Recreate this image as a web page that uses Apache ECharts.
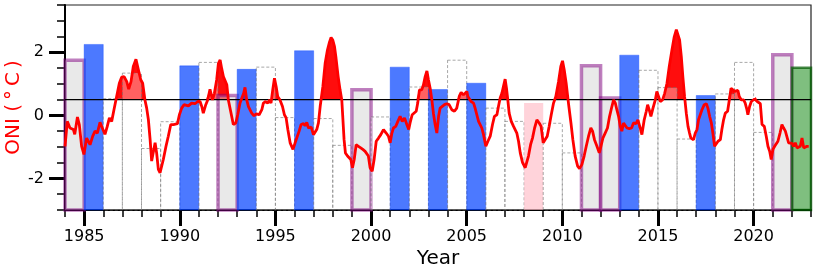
<!DOCTYPE html>
<html>
<head>
<meta charset="utf-8">
<script src="https://cdn.jsdelivr.net/npm/echarts@6/dist/echarts.min.js"></script>
<style>
html,body{margin:0;padding:0;background:#fff;}
#chart{width:817px;height:275px;}
</style>
</head>
<body>
<div id="chart"></div>
<script>
// ---------- data ----------
const xMin = 1984, xMax = 2023;
const yMin = -3, yMax = 3.5;
const threshold = 0.5;
const majorYears = [1985, 1990, 1995, 2000, 2005, 2010, 2015, 2020];
const yLabelValues = [-2, 0, 2];

const barYears = [1984,1985,1986,1987,1988,1989,1990,1991,1992,1993,1994,1995,1996,1997,1998,1999,2000,2001,2002,2003,2004,2005,2006,2007,2008,2009,2010,2011,2012,2013,2014,2015,2016,2017,2018,2019,2020,2021,2022];
const barValues = [1.75,2.25,0.53,1.34,-1.05,-0.2,1.57,1.68,0.63,1.46,1.53,-0.07,2.05,-0.1,-0.95,0.81,-0.05,1.53,0.9,0.82,1.75,1.02,0.23,-0.19,0.39,-0.25,-1.19,1.57,0.55,1.91,1.43,0.88,-0.75,0.63,0.68,1.68,-0.54,1.92,1.51];
const barTypes = ['purple','blue','dashed','dashed','dashed','dashed','blue','dashed','purple','blue','dashed','dashed','blue','dashed','dashed','purple','dashed','blue','dashed','blue','dashed','blue','dashed','dashed','pink','dashed','dashed','purple','purple','blue','dashed','dashed','dashed','blue','dashed','dashed','dashed','purple','green'];

const oniYears = [
1984.00,1984.12,1984.26,1984.44,1984.51,1984.65,1984.75,1984.87,1984.99,1985.13,1985.22,1985.31,1985.45,1985.57,1985.69,1985.83,1985.95,
1986.09,1986.21,1986.32,1986.44,1986.56,1986.70,1986.84,1986.96,1987.09,1987.23,1987.33,1987.45,1987.57,1987.71,1987.84,1987.96,
1988.06,1988.18,1988.27,1988.36,1988.45,1988.53,1988.62,1988.71,1988.79,1988.88,1988.97,1989.06,1989.14,1989.28,1989.40,1989.53,1989.67,1989.77,1989.88,1989.98,
1990.10,1990.22,1990.28,1990.45,1990.62,1990.80,1990.94,1991.06,1991.15,1991.23,1991.36,1991.46,1991.58,1991.71,1991.81,1991.93,
1992.02,1992.11,1992.19,1992.28,1992.37,1992.46,1992.54,1992.66,1992.80,1992.93,1993.03,1993.15,1993.24,1993.34,1993.41,1993.50,1993.59,1993.69,1993.76,1993.88,
1994.01,1994.15,1994.29,1994.37,1994.49,1994.60,1994.69,1994.77,1994.86,1994.95,1995.04,1995.12,1995.24,1995.37,1995.47,1995.56,1995.65,1995.77,1995.85,1995.92,
1996.03,1996.13,1996.24,1996.34,1996.47,1996.55,1996.64,1996.73,1996.87,1996.99,1997.16,1997.25,1997.34,1997.48,1997.60,1997.72,1997.83,1997.91,
1998.00,1998.09,1998.17,1998.28,1998.38,1998.47,1998.52,1998.59,1998.66,1998.77,1998.87,1998.94,1999.03,1999.12,1999.22,1999.34,1999.46,1999.57,1999.69,1999.78,1999.86,1999.95,
2000.06,2000.16,2000.27,2000.39,2000.51,2000.65,2000.79,2000.91,2001.00,2001.09,2001.17,2001.29,2001.40,2001.52,2001.63,2001.75,2001.87,2001.97,
2002.04,2002.15,2002.25,2002.36,2002.44,2002.53,2002.65,2002.74,2002.83,2002.92,2003.00,2003.09,2003.18,2003.26,2003.35,2003.44,2003.53,2003.61,2003.70,2003.84,2003.96,
2004.08,2004.22,2004.36,2004.48,2004.61,2004.71,2004.83,2004.92,2005.01,2005.06,2005.13,2005.23,2005.36,2005.44,2005.53,2005.62,2005.70,2005.79,2005.88,
2006.00,2006.11,2006.23,2006.35,2006.45,2006.58,2006.66,2006.75,2006.84,2006.92,2007.01,2007.08,2007.15,2007.22,2007.33,2007.45,2007.54,2007.62,2007.71,2007.80,2007.92,
2008.06,2008.15,2008.23,2008.34,2008.44,2008.55,2008.67,2008.79,2008.89,2009.00,2009.10,2009.21,2009.31,2009.42,2009.54,2009.66,2009.80,2009.92,
2010.01,2010.10,2010.20,2010.32,2010.45,2010.55,2010.67,2010.80,2010.90,2011.02,2011.14,2011.25,2011.37,2011.49,2011.58,2011.68,2011.81,2011.93,
2012.02,2012.12,2012.24,2012.36,2012.47,2012.59,2012.68,2012.77,2012.85,2012.94,2013.03,2013.11,2013.20,2013.29,2013.38,2013.50,2013.62,2013.72,2013.85,2013.95,
2014.07,2014.16,2014.28,2014.39,2014.46,2014.54,2014.63,2014.74,2014.86,2014.94,2015.03,2015.12,2015.24,2015.35,2015.47,2015.59,2015.73,2015.85,2015.96,
2016.04,2016.13,2016.22,2016.30,2016.39,2016.48,2016.57,2016.65,2016.72,2016.86,2016.95,2017.04,2017.12,2017.21,2017.30,2017.42,2017.53,2017.61,2017.70,2017.79,2017.87,2017.96,
2018.05,2018.14,2018.26,2018.34,2018.43,2018.52,2018.64,2018.73,2018.82,2018.90,2019.01,2019.08,2019.18,2019.25,2019.36,2019.48,2019.56,2019.65,2019.70,2019.79,2019.88,2019.97,
2020.05,2020.12,2020.19,2020.26,2020.35,2020.44,2020.56,2020.66,2020.75,2020.84,2020.92,2021.01,2021.10,2021.19,2021.27,2021.38,2021.48,2021.57,2021.66,2021.74,2021.83,2021.92,
2022.01,2022.09,2022.18,2022.27,2022.35,2022.44,2022.53,2022.62,2022.70,2022.79,2022.88
];
const oniValues = [
-0.98,-0.19,-0.40,-0.45,-0.60,-0.05,-0.30,-0.98,-1.24,-0.72,-0.66,-0.93,-0.66,-0.50,-0.56,-0.22,-0.40,
-0.60,-0.35,-0.08,-0.19,0.18,0.60,1.02,1.21,1.23,1.07,0.83,1.07,1.55,1.78,1.44,1.13,
1.02,0.49,0.23,-0.14,-0.77,-1.45,-1.40,-0.87,-1.19,-1.71,-1.82,-1.82,-1.40,-0.98,-0.66,-0.29,-0.29,-0.24,-0.26,0.02,
0.23,0.34,0.28,0.30,0.39,0.37,0.44,0.44,0.28,0.07,0.34,0.49,0.83,0.49,0.70,1.13,
1.65,1.76,1.49,1.23,1.28,0.97,0.49,0.13,-0.29,-0.24,0.02,0.39,0.44,0.70,0.89,0.49,0.28,0.28,0.07,-0.01,
0.05,0.02,0.18,0.39,0.44,0.39,0.49,0.39,0.81,1.18,0.91,0.60,0.49,0.28,0.02,-0.08,-0.45,-0.87,-0.93,-1.08,
-0.87,-0.82,-0.50,-0.29,-0.26,-0.33,-0.22,-0.40,-0.37,-0.61,-0.45,-0.24,0.28,0.91,1.65,2.07,2.33,2.47,
2.39,2.18,1.81,1.23,0.81,0.49,-0.03,-0.77,-1.19,-1.29,-1.35,-1.40,-1.66,-1.40,-0.93,-0.98,-1.03,-1.08,-1.14,-1.19,-1.29,-1.66,
-1.77,-1.40,-0.82,-0.72,-0.61,-0.45,-0.56,-0.66,-0.87,-0.56,-0.40,-0.35,-0.19,-0.03,-0.19,-0.08,-0.29,-0.45,
-0.24,0.02,0.07,0.13,0.39,0.81,0.81,0.97,1.23,1.41,1.13,0.86,0.49,0.07,-0.29,-0.56,-0.03,0.23,0.23,0.34,0.37,
0.34,0.18,0.13,0.23,0.60,0.73,0.65,0.70,0.76,0.60,0.60,0.44,0.39,0.23,0.02,-0.19,-0.14,-0.40,-0.61,
-0.98,-0.82,-0.66,-0.29,-0.03,0.02,0.28,0.55,0.70,0.91,1.15,0.86,0.49,0.07,-0.19,-0.35,-0.40,-0.56,-0.82,-1.19,-1.50,
-1.66,-1.66,-1.29,-0.93,-0.72,-0.40,-0.14,-0.24,-0.35,-0.87,-0.82,-0.66,-0.35,0.02,0.39,0.60,1.07,1.55,
1.73,1.44,1.02,0.39,-0.24,-0.77,-1.29,-1.61,-1.69,-1.56,-1.29,-0.98,-0.66,-0.40,-0.50,-0.77,-0.98,-1.19,
-0.98,-0.72,-0.56,-0.40,-0.03,0.28,0.49,0.39,0.18,-0.03,-0.35,-0.50,-0.24,-0.24,-0.40,-0.42,-0.40,-0.24,-0.26,-0.14,
-0.40,-0.61,-0.14,0.13,0.34,0.18,-0.03,0.23,0.49,0.76,0.60,0.44,0.49,0.70,1.02,1.55,2.07,2.49,2.72,
2.68,2.39,1.86,1.23,0.60,0.07,-0.35,-0.56,-0.72,-0.77,-0.56,-0.45,-0.14,0.02,0.18,0.34,0.37,0.23,-0.03,-0.24,-0.56,-0.98,
-0.98,-0.82,-0.77,-0.45,-0.14,0.07,0.13,0.49,0.86,0.89,0.76,0.70,0.79,0.60,0.49,0.49,0.39,0.18,0.02,0.28,0.44,0.49,
0.52,0.58,0.44,0.49,0.37,-0.29,-0.35,-0.66,-0.98,-1.14,-1.40,-1.08,-0.98,-0.98,-0.82,-0.56,-0.29,-0.40,-0.50,-0.56,-0.87,-0.93,
-0.89,-0.98,-0.87,-1.03,-1.08,-0.98,-0.72,-1.03,-1.08,-0.98,-0.98
];

// ---------- derived series data ----------
const linePoints = oniYears.map((x, i) => [x, oniValues[i]]);
// Portion above threshold (with crossing points) for the red fill
const fillPoints = [];
for (let i = 0; i < linePoints.length; i++) {
  const [x0, v0] = linePoints[i];
  fillPoints.push([x0, Math.max(v0, threshold)]);
  if (i < linePoints.length - 1) {
    const [x1, v1] = linePoints[i + 1];
    if ((v0 - threshold) * (v1 - threshold) < 0) {
      const xc = x0 + (threshold - v0) / (v1 - v0) * (x1 - x0);
      fillPoints.push([xc, threshold]);
    }
  }
}
const barData = barYears.map((y, i) => [y, barValues[i], i]);

const barStyles = {
  blue:   {fill: 'rgba(0,64,255,0.7)', stroke: 'rgba(0,64,255,0.7)', lineWidth: 0.5},
  dashed: {fill: 'rgba(255,255,255,0.35)', stroke: 'rgba(110,110,110,0.6)', lineWidth: 1, lineDash: [3, 2]},
  purple: {fill: 'rgba(211,211,211,0.5)', stroke: 'rgba(128,0,128,0.5)', lineWidth: 3.5},
  pink:   {fill: 'rgba(255,192,203,0.7)', stroke: null, lineWidth: 0},
  green:  {fill: 'rgba(0,128,0,0.5)', stroke: 'rgba(0,90,0,0.7)', lineWidth: 2.5}
};

const font = 'DejaVu Sans';
const chart = echarts.init(document.getElementById('chart'), null, {renderer: 'canvas'});

chart.setOption({
  animation: false,
  backgroundColor: '#fff',
  grid: {left: 65, right: 6, top: 5, bottom: 65, containLabel: false, outerBoundsMode: 'none',
         show: true, borderColor: '#222', borderWidth: 1.2, backgroundColor: 'transparent'},
  xAxis: [
    {
      type: 'value', min: xMin, max: xMax, interval: 1,
      axisLine: {show: true, onZero: false, lineStyle: {color: '#000', width: 2}},
      axisTick: {show: true, length: 7, lineStyle: {color: '#000', width: 1.5}},
      axisLabel: {show: false},
      splitLine: {show: false}
    },
    {
      type: 'value', min: xMin, max: xMax, position: 'bottom',
      axisLine: {show: false, onZero: false},
      axisTick: {show: true, customValues: majorYears, length: 16, lineStyle: {color: '#000', width: 3}},
      axisLabel: {show: true, customValues: majorYears, fontSize: 16, fontFamily: font, color: '#000', margin: 19, formatter: v => String(v)},
      splitLine: {show: false},
      name: 'Year', nameLocation: 'middle', nameGap: 39, nameMoveOverlap: false,
      nameTextStyle: {fontSize: 20, fontFamily: font, color: '#000'}
    }
  ],
  yAxis: [
    {
      type: 'value', min: yMin, max: yMax, interval: 0.5,
      axisLine: {show: true, onZero: false, lineStyle: {color: '#000', width: 2}},
      axisTick: {show: true, length: 8, lineStyle: {color: '#000', width: 1.5}},
      axisLabel: {show: false},
      splitLine: {show: false}
    },
    {
      type: 'value', min: yMin, max: yMax, position: 'left',
      axisLine: {show: false, onZero: false},
      axisTick: {show: true, customValues: yLabelValues, length: 16, lineStyle: {color: '#000', width: 3}},
      axisLabel: {show: true, customValues: yLabelValues, fontSize: 16, fontFamily: font, color: '#000', margin: 21, formatter: v => String(v)},
      splitLine: {show: false},
      name: 'ONI (\u2009°\u2009C\u2009)', nameLocation: 'middle', nameGap: 41, nameRotate: 90, nameMoveOverlap: false,
      nameTextStyle: {fontSize: 20, fontFamily: font, color: '#ff0000'}
    }
  ],
  series: [
    {
      name: 'fill', type: 'line', xAxisIndex: 0, yAxisIndex: 0,
      data: fillPoints, showSymbol: false, silent: true, z: 1,
      lineStyle: {width: 0, opacity: 0},
      areaStyle: {color: 'rgba(255,0,0,0.95)', origin: threshold, opacity: 1}
    },
    {
      name: 'bars', type: 'custom', xAxisIndex: 0, yAxisIndex: 0, z: 2,
      data: barData, encode: {x: 0, y: 1},
      renderItem: function (params, api) {
        const yr = api.value(0), val = api.value(1), idx = api.value(2);
        const pTop = api.coord([yr, val]);
        const pBot = api.coord([yr + 1, yMin]);
        const st = barStyles[barTypes[idx]];
        const style = {fill: st.fill};
        if (st.stroke) { style.stroke = st.stroke; style.lineWidth = st.lineWidth; }
        if (st.lineDash) style.lineDash = st.lineDash;
        return {
          type: 'rect',
          shape: {x: pTop[0], y: pTop[1], width: pBot[0] - pTop[0], height: pBot[1] - pTop[1]},
          style: style
        };
      }
    },
    {
      name: 'threshold', type: 'line', xAxisIndex: 0, yAxisIndex: 0, z: 3,
      data: [[xMin, threshold], [xMax, threshold]], showSymbol: false, silent: true,
      lineStyle: {color: '#000', width: 1.4}
    },
    {
      name: 'ONI', type: 'line', xAxisIndex: 0, yAxisIndex: 0, z: 4,
      data: linePoints, showSymbol: false, silent: true,
      lineStyle: {color: '#ff0000', width: 2.8}
    }
  ]
});
</script>
</body>
</html>
